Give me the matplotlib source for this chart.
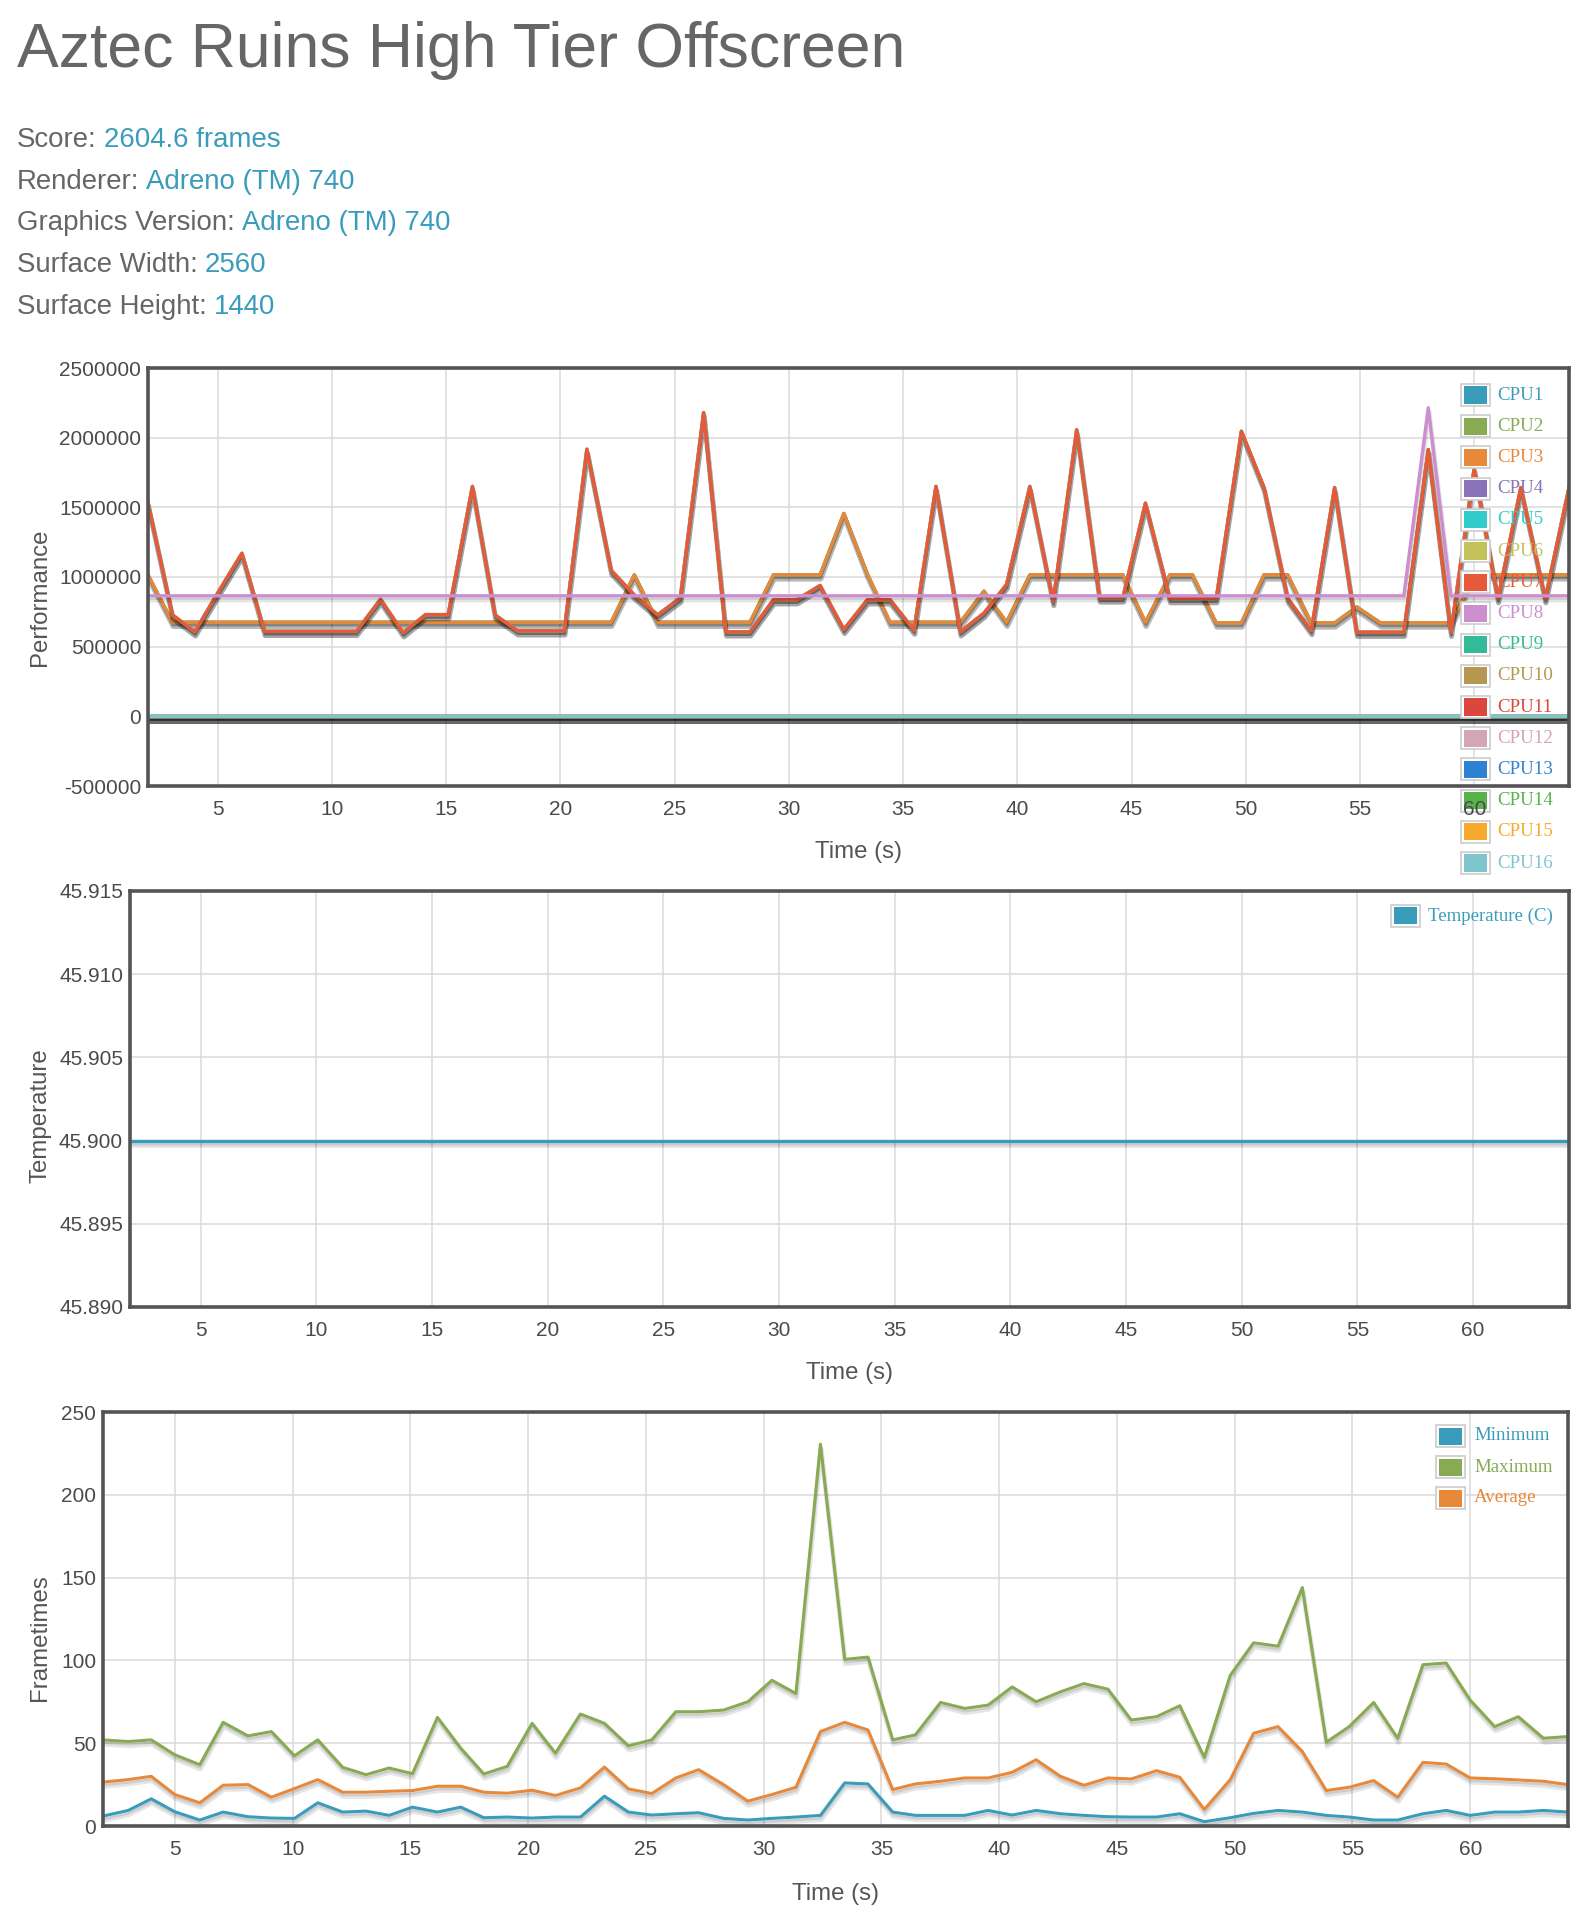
import matplotlib
matplotlib.use("Agg")
import matplotlib.pyplot as plt
from matplotlib import patheffects as pe
from matplotlib.patches import Rectangle

# ---------------- data ----------------
title = "Aztec Ruins High Tier Offscreen"
info_labels = ["Score:", "Renderer:", "Graphics Version:", "Surface Width:", "Surface Height:"]
info_values = ["2604.6 frames", "Adreno (TM) 740", "Adreno (TM) 740", "2560", "1440"]

times = [1.95, 3.02, 4.0, 5.0, 6.06, 7.05, 8.11, 9.1, 10.08, 11.07,
         12.13, 13.12, 14.1, 15.09, 16.15, 17.14, 18.12, 19.11, 20.17, 21.16,
         22.22, 23.24, 24.26, 25.25, 26.27, 27.24, 28.3, 29.33, 30.35, 31.37,
         32.41, 33.44, 34.43, 35.48, 36.44, 37.51, 38.54, 39.53, 40.55, 41.57,
         42.6, 43.6, 44.62, 45.61, 46.68, 47.67, 48.71, 49.81, 50.80, 51.84,
         52.87, 53.89, 54.86, 55.9, 56.92, 57.99, 58.98, 60.0, 61.04, 62.04,
         63.11, 64.15]

# CPU1-CPU3 (identical readings)
cpu_small = [1015000, 675000, 675000, 675000, 675000, 675000, 675000, 675000, 675000, 675000,
             675000, 675000, 675000, 675000, 675000, 675000, 675000, 675000, 675000, 675000,
             675000, 1015000, 675000, 675000, 675000, 675000, 675000, 1015000, 1015000, 1015000,
             1456000, 1020000, 675000, 675000, 675000, 675000, 898000, 675000, 1015000, 1015000,
             1015000, 1015000, 1015000, 675000, 1015000, 1015000, 670000, 670000, 1015000, 1015000,
             670000, 670000, 785000, 670000, 670000, 670000, 670000, 1015000, 1015000, 1015000,
             1015000, 1015000]
# CPU4-CPU7 (identical readings)
cpu_mid = [1530000, 728000, 607000, 885000, 1170000, 610000, 610000, 610000, 610000, 610000,
           840000, 600000, 730000, 730000, 1650000, 728000, 614000, 614000, 614000, 1917000,
           1048000, 870000, 728000, 850000, 2180000, 607000, 607000, 837000, 837000, 939000,
           624000, 837000, 837000, 619000, 1650000, 607000, 740000, 946000, 1650000, 825000,
           2056000, 850000, 850000, 1530000, 845000, 845000, 845000, 2046000, 1642000, 845000,
           616000, 1642000, 604000, 604000, 604000, 1915000, 604000, 1780000, 845000, 1642000,
           845000, 1642000]
# CPU8
cpu_prime = [865000, 865000, 865000, 865000, 865000, 865000, 865000, 865000, 865000, 865000,
             865000, 865000, 865000, 865000, 865000, 865000, 865000, 865000, 865000, 865000,
             865000, 865000, 865000, 865000, 865000, 865000, 865000, 865000, 865000, 865000,
             865000, 865000, 865000, 865000, 865000, 865000, 865000, 865000, 865000, 865000,
             865000, 865000, 865000, 865000, 865000, 865000, 865000, 865000, 865000, 865000,
             865000, 865000, 865000, 865000, 865000, 2215000, 865000, 865000, 865000, 865000,
             865000, 865000]
# CPU9-CPU16
cpu_idle = [0, 0, 0, 0, 0, 0, 0, 0, 0, 0, 0, 0, 0, 0, 0, 0, 0, 0, 0, 0,
            0, 0, 0, 0, 0, 0, 0, 0, 0, 0, 0, 0, 0, 0, 0, 0, 0, 0, 0, 0,
            0, 0, 0, 0, 0, 0, 0, 0, 0, 0, 0, 0, 0, 0, 0, 0, 0, 0, 0, 0,
            0, 0]

cpu_names = ["CPU1", "CPU2", "CPU3", "CPU4", "CPU5", "CPU6", "CPU7", "CPU8",
             "CPU9", "CPU10", "CPU11", "CPU12", "CPU13", "CPU14", "CPU15", "CPU16"]
cpu_series = [cpu_small, cpu_small, cpu_small, cpu_mid, cpu_mid, cpu_mid, cpu_mid, cpu_prime,
              cpu_idle, cpu_idle, cpu_idle, cpu_idle, cpu_idle, cpu_idle, cpu_idle, cpu_idle]
cpu_colors = ["#3a9cbb", "#87aa52", "#e8883a", "#8a72b8", "#33cccc", "#c5c25a", "#e8593a", "#cc8ecf",
              "#33bb99", "#b5974f", "#d9473f", "#d4a5b3", "#2e82d2", "#57b34a", "#f7aa2c", "#7ec5cd"]

temperature = [45.9, 45.9, 45.9, 45.9, 45.9, 45.9, 45.9, 45.9, 45.9, 45.9,
               45.9, 45.9, 45.9, 45.9, 45.9, 45.9, 45.9, 45.9, 45.9, 45.9,
               45.9, 45.9, 45.9, 45.9, 45.9, 45.9, 45.9, 45.9, 45.9, 45.9,
               45.9, 45.9, 45.9, 45.9, 45.9, 45.9, 45.9, 45.9, 45.9, 45.9,
               45.9, 45.9, 45.9, 45.9, 45.9, 45.9, 45.9, 45.9, 45.9, 45.9,
               45.9, 45.9, 45.9, 45.9, 45.9, 45.9, 45.9, 45.9, 45.9, 45.9,
               45.9, 45.9]

ft_min = [6, 9.4, 16.4, 8.6, 3.6, 8.4, 5.6, 4.8, 4.6, 14,
          8.4, 9, 6.4, 11.4, 8.4, 11.4, 5, 5.4, 4.8, 5.4,
          5.4, 18, 8.4, 6.6, 7.4, 8, 4.6, 3.6, 4.6, 5.4,
          6.4, 26, 25.4, 8.4, 6.4, 6.4, 6.4, 9.4, 6.6, 9.4,
          7.4, 6.4, 5.6, 5.4, 5.4, 7.4, 2.6, 5, 7.6, 9.4,
          8.4, 6.4, 5.4, 3.6, 3.6, 7.4, 9.4, 6.4, 8.4, 8.4,
          9.4, 8.4]
ft_max = [52, 51, 52, 43, 37, 62.6, 54.4, 57, 42.4, 52,
          35.4, 31, 35, 31.6, 65.6, 47, 31.4, 36, 62, 44,
          67.6, 62, 48.4, 52, 69, 69, 70, 75, 88, 80,
          230.6, 100.6, 102, 52, 55, 74.6, 71, 73, 84, 75,
          81, 86, 82.6, 64, 66, 72.6, 41.4, 91, 110.6, 108.6,
          144, 50.6, 60, 74.6, 53, 97.4, 98.4, 76, 60, 66,
          53, 54]
ft_avg = [26.5, 28, 30, 19, 14, 24.6, 25, 17.4, 22.6, 28,
          20.4, 20.4, 21, 21.4, 24, 24, 20.4, 19.8, 21.6, 18.4,
          23, 35.6, 22.4, 19.6, 29, 34, 25, 15, 19, 23.4,
          57, 62.6, 58, 22, 25.4, 27, 29, 29, 32.4, 40,
          30, 24.6, 29, 28.4, 33.4, 29.4, 10, 28, 56, 60,
          45, 21.4, 23.4, 27.4, 17.4, 38.4, 37.4, 29, 28.5, 27.8,
          27, 25]
ft_names = ["Minimum", "Maximum", "Average"]
ft_series = [ft_min, ft_max, ft_avg]
ft_colors = ["#3a9cbb", "#87aa52", "#e8883a"]

temp_names = ["Temperature (C)"]
temp_colors = ["#3a9cbb"]

x_ticks = [5, 10, 15, 20, 25, 30, 35, 40, 45, 50, 55, 60]
cpu_yticks = [-500000, 0, 500000, 1000000, 1500000, 2000000, 2500000]
temp_yticks = [45.890, 45.895, 45.900, 45.905, 45.910, 45.915]
ft_yticks = [0, 50, 100, 150, 200, 250]

# ---------------- figure ----------------
W, H = 1594, 1920
plt.rcParams["font.family"] = ["Liberation Sans", "DejaVu Sans"]
fig = plt.figure(figsize=(W / 100, H / 100), dpi=100)


def fx(px):
    return px / W


def fy(py):
    return 1 - py / H


def axes_at(left, top, right, bottom):
    return fig.add_axes([fx(left), fy(bottom), (right - left) / W, (bottom - top) / H])


shadow = [pe.SimpleLineShadow(offset=(0.5, -3.0), shadow_color="k", alpha=0.1, linewidth=3.6),
          pe.SimpleLineShadow(offset=(0.35, -2.1), shadow_color="k", alpha=0.1, linewidth=1.8),
          pe.Normal()]

TICK_C = "#4a4a4a"
LABEL_C = "#555555"
GRID_C = "#dadada"


def style(ax, ylim, yticks, yfmt, ylabel, box, label_y_px, xlabel_off):
    left, top, right, bottom = box
    ax.set_xlim(times[0], times[-1])
    ax.set_ylim(*ylim)
    ax.set_xticks(x_ticks)
    ax.set_yticks(yticks)
    ax.set_yticklabels([yfmt(v) for v in yticks])
    # grid drawn beneath the data; tick labels stay above overlays
    for t in x_ticks:
        ax.axvline(t, color=GRID_C, linewidth=1.1, zorder=0.5)
    for t in yticks:
        ax.axhline(t, color=GRID_C, linewidth=1.1, zorder=0.5)
    ax.set_axisbelow(False)
    for s in ax.spines.values():
        s.set_color("#545454")
        s.set_linewidth(2.6)
        s.set_zorder(5)
    ax.tick_params(axis="both", length=0, labelsize=15, colors=TICK_C)
    ax.tick_params(axis="x", pad=10)
    ax.tick_params(axis="y", pad=5)
    ax.set_xlabel("Time (s)", fontsize=17.3, color=LABEL_C)
    ax.xaxis.label.set_va("center")
    ax.xaxis.set_label_coords(0.5, -xlabel_off / (bottom - top))
    ax.set_ylabel(ylabel, fontsize=17.3, color=LABEL_C)
    ax.yaxis.label.set_va("center")
    ax.yaxis.label.set_ha("center")
    ax.yaxis.set_label_coords((40 - left) / (right - left), (bottom - label_y_px) / (bottom - top))


def legend(ax, names, colors, box_left, text_left, first_y, step):
    for k, (n, c) in enumerate(zip(names, colors)):
        yc = first_y + step * k
        ax.add_artist(Rectangle((fx(box_left), fy(yc + 11)), 29 / W, 22 / H,
                                transform=fig.transFigure, facecolor="white",
                                edgecolor="#cccccc", linewidth=1.2, zorder=2.2, clip_on=False))
        ax.add_artist(Rectangle((fx(box_left + 3), fy(yc + 8.5)), 23 / W, 17 / H,
                                transform=fig.transFigure, facecolor=c,
                                edgecolor="none", zorder=2.3, clip_on=False))
        ax.text(fx(text_left), fy(yc), n, color=c, fontsize=13.6, transform=fig.transFigure,
                family=["Liberation Serif", "DejaVu Serif"], va="center", ha="left",
                zorder=2.4, clip_on=False)


# ---------------- header ----------------
fig.text(fx(17), fy(67), title, fontsize=45, color="#666666", va="baseline", ha="left")
renderer = fig.canvas.get_renderer()
for k, (lab, val) in enumerate(zip(info_labels, info_values)):
    yb = fy(147 + 41.7 * k)
    t = fig.text(fx(17), yb, lab, fontsize=19.9, color="#666666", va="baseline", ha="left")
    bb = t.get_window_extent(renderer)
    fig.text((bb.x1 + 7) / W, yb, val, fontsize=19.9, color="#3a9cbb", va="baseline", ha="left")

# ---------------- CPU chart ----------------
box1 = (148, 368, 1569, 786)
ax1 = axes_at(*box1)
for vals, col in zip(cpu_series, cpu_colors):
    ax1.plot(times, vals, color=col, linewidth=2.4, path_effects=shadow, zorder=2)
style(ax1, (-500000, 2500000), cpu_yticks, lambda v: f"{v:d}", "Performance", box1, 597, 66)
legend(ax1, cpu_names, cpu_colors, 1461, 1497, 395, 31.2)

# ---------------- Temperature chart ----------------
box2 = (130, 891, 1569, 1307)
ax2 = axes_at(*box2)
ax2.plot(times, temperature, color=temp_colors[0], linewidth=2.4, path_effects=shadow, zorder=2)
style(ax2, (45.890, 45.915), temp_yticks, lambda v: f"{v:.3f}", "Temperature", box2, 1116, 66)
legend(ax2, temp_names, temp_colors, 1391, 1428, 916, 31.2)

# ---------------- Frametimes chart ----------------
box3 = (103, 1412, 1568, 1826)
ax3 = axes_at(*box3)
for vals, col in zip(ft_series, ft_colors):
    ax3.plot(times, vals, color=col, linewidth=2.2, path_effects=shadow, zorder=2)
style(ax3, (0, 250), ft_yticks, lambda v: f"{v:d}", "Frametimes", box3, 1638, 68)
legend(ax3, ft_names, ft_colors, 1436, 1474, 1436, 31.0)

fig.savefig("out.png", dpi=100, facecolor="white")
